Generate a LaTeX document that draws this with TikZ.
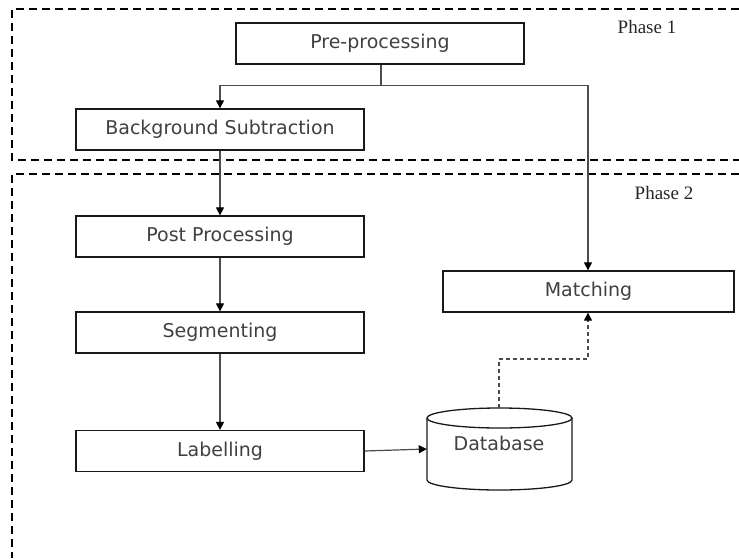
\documentclass[tikz,border=0pt]{standalone}
\usepackage{fontspec}
\setmainfont{Liberation Serif}
\newfontfamily\boxfont{DejaVu Sans}
\usetikzlibrary{arrows.meta}
\begin{document}
\begin{tikzpicture}[x=1pt,y=-1pt,
  label text/.style={font=\boxfont\fontsize{19}{21}\selectfont,text=black!75},
  stage/.style={draw=black!90,line width=1.3pt,minimum width=288pt,minimum height=41pt,
    inner sep=0pt,label text},
  outline/.style={draw=black!90,line width=1.3pt},
  frame/.style={line width=1.8pt,dash pattern=on 8pt off 5pt},
  flow/.style={draw=black!70,line width=1.2pt,
    -{Triangle[length=8pt,width=8pt,color=black]}},
  phase/.style={font=\fontsize{19}{21}\selectfont,text=black!85}]
\useasboundingbox (0,0) rectangle (739,558);
% phase frames
\draw[frame] (739,9) -- (12,9) -- (12,160) -- (739,160);
\draw[frame] (739,174) -- (12,174) -- (12,558);
\node[phase] (p1) at (647,27) {Phase 1};
\node[phase] (p2) at (664,193) {Phase 2};
% stages
\node[stage] (pre) at (380,43.5) {Pre-processing};
\node[stage] (bg) at (220,129.5) {Background Subtraction};
\node[stage] (post) at (220,236.5) {Post Processing};
\node[stage] (seg) at (220,332.5) {Segmenting};
\node[stage] (lab) at (220,451) {Labelling};
\node[stage,minimum width=291pt] (match) at (588.5,291.5) {Matching};
% database drum: outline drawn around an invisible node
\node[minimum width=145pt,minimum height=82pt,inner sep=0pt] (db) at (499.5,449) {};
\coordinate (dbtc) at (499.5,418);
\draw[outline] (dbtc) ellipse [x radius=72.5pt,y radius=10pt];
\draw[outline] (427,418) -- (427,480)
  arc [start angle=180,end angle=360,x radius=72.5pt,y radius=10pt] -- (572,418);
\node[label text] (dbt) at (499,443) {Database};
% connectors
\coordinate (split) at (381,85.5);
\draw[flow] (pre.south -| split) -- (split) -| (bg.north);
\draw[flow] (split) -| (match.north -| 588,0);
\draw[flow] (bg.south) -- (post.north);
\draw[flow] (post.south) -- (seg.north);
\draw[flow] (seg.south) -- (lab.north);
\draw[flow] (lab.east) -- (db.west);
\coordinate (bend) at (499,359);
\draw[flow,dash pattern=on 4pt off 3pt] (db.north -| bend) -- (bend) -| (match.south -| 588,0);
\end{tikzpicture}
\end{document}
